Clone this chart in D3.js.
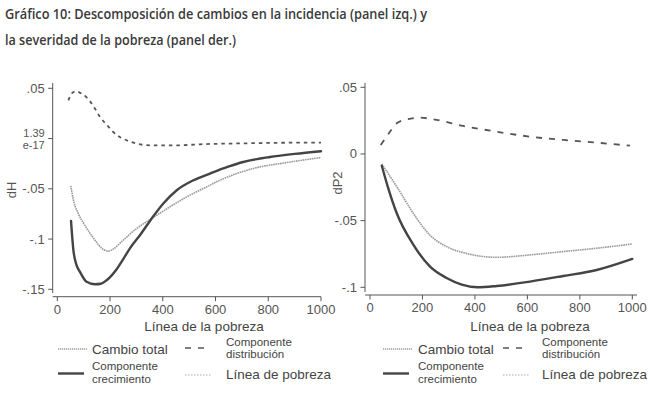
<!DOCTYPE html>
<html><head><meta charset="utf-8">
<script src="https://cdn.jsdelivr.net/npm/d3@7"></script>
<style>body{margin:0;background:#fff}svg{display:block}</style>
</head><body>
<svg id="c" width="650" height="393"></svg>
<script>
// ---------- data ----------
const titleLines = ["Gráfico 10: Descomposición de cambios en la incidencia (panel izq.) y",
                    "la severidad de la pobreza (panel der.)"];
const xTicks = [0, 200, 400, 600, 800, 1000];
const xTitle = "Línea de la pobreza";
const leftYTicks = [0.05, 0, -0.05, -0.1, -0.15];
const leftYLabels = [".05", "1.39\ne-17", "-.05", "-.1", "-.15"];
const rightYTicks = [0.05, 0, -0.05, -0.1];
const rightYLabels = [".05", "0", "-.05", "-.1"];

// Left panel (dH)
const L_total_x = [51, 61, 80, 99, 137, 170, 193, 215, 238, 301, 358, 427, 491, 554, 617, 743, 870, 1000];
const L_total_y = [-0.047, -0.061, -0.075, -0.084, -0.099, -0.1095, -0.112, -0.1095, -0.104, -0.0895, -0.0795, -0.068, -0.058, -0.0497, -0.0415, -0.0298, -0.0239, -0.0189];
const L_dist_x = [42, 55, 71, 90, 111, 140, 162, 190, 212, 240, 263, 300, 351, 450, 541, 700, 850, 1000];
const L_dist_y = [0.038, 0.045, 0.047, 0.045, 0.041, 0.031, 0.0215, 0.013, 0.0066, 0.001, -0.0017, -0.005, -0.0067, -0.0068, -0.0057, -0.0048, -0.0042, -0.004];
const L_grow_x = [52, 61, 73, 86, 111, 143, 165, 187, 225, 250, 276, 314, 358, 402, 453, 516, 579, 648, 705, 807, 900, 1000];
const L_grow_y = [-0.082, -0.111, -0.126, -0.1326, -0.1425, -0.145, -0.1445, -0.141, -0.130, -0.12, -0.109, -0.096, -0.0795, -0.0646, -0.0514, -0.0415, -0.0348, -0.028, -0.0233, -0.0183, -0.0153, -0.0126];

// Right panel (dP2)
const R_total_x = [45, 102, 165, 229, 292, 381, 483, 610, 737, 864, 1000];
const R_total_y = [-0.0075, -0.0245, -0.0445, -0.061, -0.0695, -0.0752, -0.0775, -0.0757, -0.0732, -0.0707, -0.0675];
const R_dist_x = [41, 70, 102, 140, 191, 241, 356, 483, 610, 737, 864, 991];
const R_dist_y = [0.0067, 0.015, 0.023, 0.026, 0.0272, 0.026, 0.021, 0.0167, 0.013, 0.0105, 0.0085, 0.0062];
const R_grow_x = [45, 70, 102, 165, 229, 292, 350, 410, 483, 610, 737, 864, 1000];
const R_grow_y = [-0.0088, -0.026, -0.0445, -0.068, -0.0845, -0.093, -0.098, -0.1, -0.099, -0.0957, -0.0915, -0.087, -0.0787];

const legendLabels = {
  total: ["Cambio total"],
  dist: ["Componente", "distribución"],
  grow: ["Componente", "crecimiento"],
  line: ["Línea de pobreza"]
};

// ---------- drawing ----------
const svg = d3.select("#c");
const FONT = "'Liberation Sans', Arial, sans-serif";
const TXT = "#555";

svg.append("text").attr("x", 5).attr("y", 19).attr("font-family", "'Open Sans', sans-serif")
  .attr("font-weight", 600).attr("font-size", 13.5).attr("fill", "#3a3a3a")
  .attr("textLength", 422).attr("lengthAdjust", "spacingAndGlyphs").text(titleLines[0]);
svg.append("text").attr("x", 5).attr("y", 45).attr("font-family", "'Open Sans', sans-serif")
  .attr("font-weight", 600).attr("font-size", 13.5).attr("fill", "#3a3a3a")
  .attr("textLength", 231).attr("lengthAdjust", "spacingAndGlyphs").text(titleLines[1]);

const styles = {
  total: {stroke: "#9a9a9a", width: 1.6, dash: "1.6,0.7"},
  grow: {stroke: "#444", width: 2.4, dash: null},
  line: {stroke: "#aaa", width: 1, dash: "1.5,1.5"}
};

// multi-line text as a single <text> with tspans
function multiText(g, xx, y0, lines, dy, attrs) {
  const t = g.append("text").attr("x", xx).attr("y", y0);
  Object.entries(attrs).forEach(([k, v]) => t.attr(k, v));
  lines.forEach((s, k) => {
    t.append("tspan").attr("x", xx).attr("y", y0 + k * dy).text(s);
  });
  return t;
}

function panel(p) {
  const x = d3.scaleLinear().domain([0, 1000]).range([p.x0, p.x1]);
  const y = d3.scaleLinear().domain([p.yTop, p.yBot]).range([p.py0, p.py1]);
  const g = svg.append("g");

  // axis lines
  g.append("line").attr("x1", p.ax).attr("x2", p.ax).attr("y1", p.axTop).attr("y2", p.axBot)
    .attr("stroke", "#555").attr("stroke-width", 1);
  g.append("line").attr("x1", p.ax).attr("x2", p.xEnd).attr("y1", p.ay).attr("y2", p.ay)
    .attr("stroke", "#555").attr("stroke-width", 1);

  // y ticks
  p.yTicks.forEach((t, i) => {
    const yy = y(t);
    g.append("line").attr("x1", p.ax - 4.5).attr("x2", p.ax).attr("y1", yy).attr("y2", yy)
      .attr("stroke", "#555");
    const parts = p.yLabels[i].split("\n");
    const dy = 12.6;
    multiText(g, p.ax - 8, yy + 4.5 - (parts.length - 1) / 2 * dy, parts, dy, {
      "text-anchor": "end", "font-family": FONT,
      "font-size": parts.length > 1 ? 11 : 13, "fill": TXT
    });
  });
  // x ticks
  xTicks.forEach(t => {
    g.append("line").attr("x1", x(t)).attr("x2", x(t)).attr("y1", p.ay).attr("y2", p.ay + 4.5)
      .attr("stroke", "#555");
    g.append("text").attr("x", x(t)).attr("y", p.ay + 17).attr("text-anchor", "middle")
      .attr("font-family", FONT).attr("font-size", 13).attr("fill", TXT).text(t);
  });
  // axis titles
  g.append("text").attr("transform", `translate(${p.ylabX},${p.ylabY}) rotate(-90)`)
    .attr("text-anchor", "middle").attr("font-family", FONT).attr("font-size", 13)
    .attr("fill", TXT).text(p.yName);
  g.append("text").attr("x", p.xTitleX).attr("y", 331).attr("text-anchor", "middle")
    .attr("font-family", FONT).attr("font-size", 13.5).attr("fill", "#444").text(xTitle);

  const line = d3.line().x(d => x(d[0])).y(d => y(d[1])).curve(d3.curveMonotoneX);
  const zip = (a, b) => a.map((v, i) => [v, b[i]]);

  g.append("path").attr("d", line(zip(p.totX, p.totY))).attr("fill", "none")
    .attr("stroke", styles.total.stroke).attr("stroke-width", styles.total.width)
    .attr("stroke-dasharray", styles.total.dash);
  g.append("path").attr("d", line(zip(p.distX, p.distY))).attr("fill", "none")
    .attr("stroke", "#555").attr("stroke-width", 1.8).attr("stroke-dasharray", p.distDash);
  g.append("path").attr("d", line(zip(p.growX, p.growY))).attr("fill", "none")
    .attr("stroke", styles.grow.stroke).attr("stroke-width", styles.grow.width)
    .attr("stroke-linecap", "round");

  // legend
  const L = p.leg;
  const la = fs => ({"font-family": FONT, "font-size": fs, "fill": "#444"});
  g.append("line").attr("x1", L.s1).attr("x2", L.s1 + 29).attr("y1", 349).attr("y2", 349)
    .attr("stroke", styles.total.stroke).attr("stroke-width", 1.4).attr("stroke-dasharray", "1.2,0.8");
  multiText(g, L.t1, 353.5, legendLabels.total, 12, la(13.5));
  g.append("line").attr("x1", L.s2).attr("x2", L.s2 + 19).attr("y1", 348).attr("y2", 348)
    .attr("stroke", "#555").attr("stroke-width", 1.6).attr("stroke-dasharray", "6,7");
  multiText(g, L.t2, 345.5, legendLabels.dist, 12.6, la(11.5));
  g.append("line").attr("x1", L.s1).attr("x2", L.s1 + 26).attr("y1", 373.5).attr("y2", 373.5)
    .attr("stroke", styles.grow.stroke).attr("stroke-width", 2.4);
  multiText(g, L.t1, 370, legendLabels.grow, 12.6, la(11.5));
  g.append("line").attr("x1", L.s2).attr("x2", L.s2 + 27).attr("y1", 375).attr("y2", 375)
    .attr("stroke", styles.line.stroke).attr("stroke-width", styles.line.width)
    .attr("stroke-dasharray", styles.line.dash);
  multiText(g, L.t2, 379, legendLabels.line, 12, la(13.5));
}

panel({
  x0: 57.3, x1: 321, yTop: 0.05, yBot: -0.15, py0: 88.3, py1: 289.3,
  ax: 52.7, axTop: 83, axBot: 293, ay: 296.7, xEnd: 321,
  yTicks: leftYTicks, yLabels: leftYLabels, yName: "dH", ylabX: 16, ylabY: 190,
  xTitleX: 204,
  totX: L_total_x, totY: L_total_y, distX: L_dist_x, distY: L_dist_y,
  growX: L_grow_x, growY: L_grow_y, distDash: "3.5,4",
  leg: {s1: 58, t1: 92, s2: 185, t2: 226}
});
panel({
  x0: 370, x1: 632.3, yTop: 0.05, yBot: -0.1, py0: 87.3, py1: 287.3,
  ax: 365, axTop: 83, axBot: 292, ay: 295, xEnd: 637,
  yTicks: rightYTicks, yLabels: rightYLabels, yName: "dP2", ylabX: 342, ylabY: 183,
  xTitleX: 530,
  totX: R_total_x, totY: R_total_y, distX: R_dist_x, distY: R_dist_y,
  growX: R_grow_x, growY: R_grow_y, distDash: "6,7",
  leg: {s1: 383, t1: 418, s2: 503, t2: 542}
});
</script>
</body></html>
